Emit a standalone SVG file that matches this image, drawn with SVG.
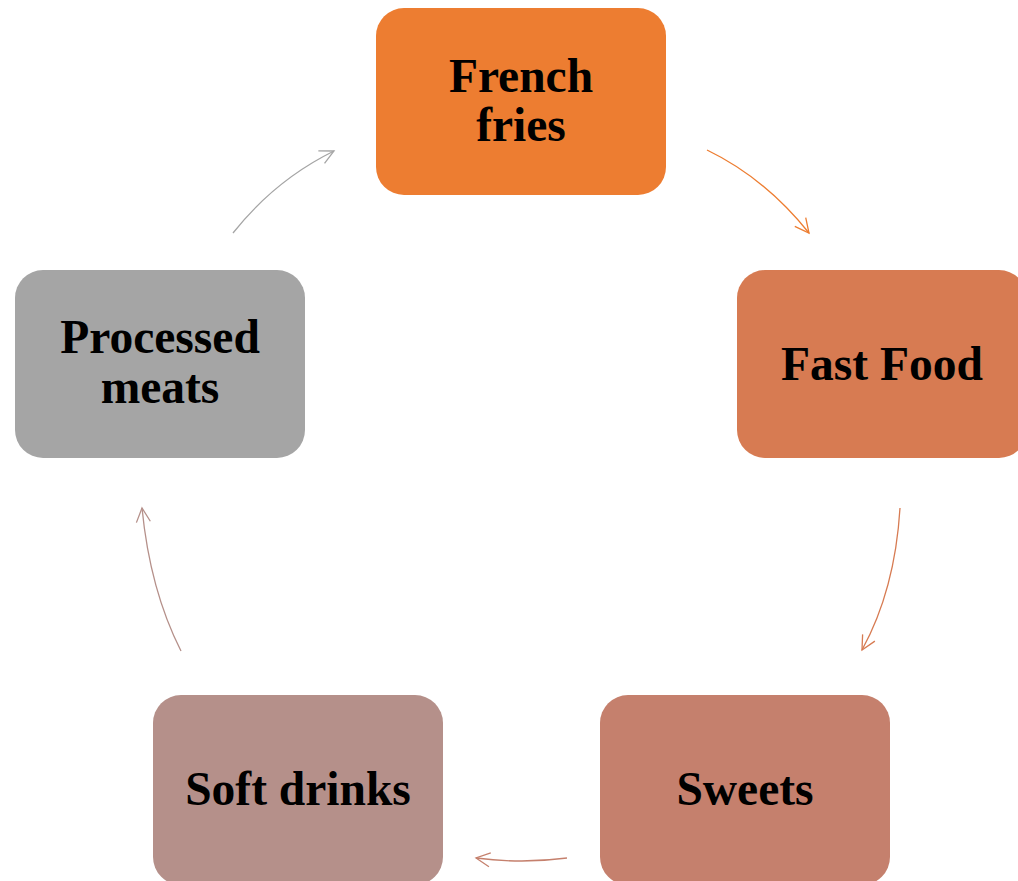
<svg xmlns="http://www.w3.org/2000/svg" width="1018" height="881" viewBox="0 0 1018 881">
<style>
.box{stroke:none}
.lbl{font-family:"Liberation Serif","Times New Roman",serif;font-weight:bold;font-size:47.5px;fill:#000;text-anchor:middle}
.c{fill:none;stroke-width:1.3}
</style>
<defs>
<marker id="m1" markerUnits="userSpaceOnUse" markerWidth="18" markerHeight="18" refX="15" refY="9" orient="auto"><path d="M1,2 L15,9 L1,16" fill="none" stroke="#ED7D31" stroke-width="1.3"/></marker>
<marker id="m2" markerUnits="userSpaceOnUse" markerWidth="18" markerHeight="18" refX="15" refY="9" orient="auto"><path d="M1,2 L15,9 L1,16" fill="none" stroke="#D77B52" stroke-width="1.3"/></marker>
<marker id="m3" markerUnits="userSpaceOnUse" markerWidth="18" markerHeight="18" refX="15" refY="9" orient="auto"><path d="M1,2 L15,9 L1,16" fill="none" stroke="#C5806D" stroke-width="1.3"/></marker>
<marker id="m4" markerUnits="userSpaceOnUse" markerWidth="18" markerHeight="18" refX="15" refY="9" orient="auto"><path d="M1,2 L15,9 L1,16" fill="none" stroke="#B5908A" stroke-width="1.3"/></marker>
<marker id="m5" markerUnits="userSpaceOnUse" markerWidth="18" markerHeight="18" refX="15" refY="9" orient="auto"><path d="M1,2 L15,9 L1,16" fill="none" stroke="#A5A5A5" stroke-width="1.3"/></marker>
</defs>
<rect width="1018" height="881" fill="#fff"/>
<g id="connectors">
<path class="c" d="M707,150 Q765,178 809,233" stroke="#ED7D31" marker-end="url(#m1)"/>
<path class="c" d="M900,508 Q895,590 862,650" stroke="#D77B52" marker-end="url(#m2)"/>
<path class="c" d="M567,858 Q522,864 476,858" stroke="#C5806D" marker-end="url(#m3)"/>
<path class="c" d="M181,651 Q150,590 142,508" stroke="#B5908A" marker-end="url(#m4)"/>
<path class="c" d="M233,233 Q275,180 334,151" stroke="#A5A5A5" marker-end="url(#m5)"/>
</g>
<g id="french-fries">
<rect class="box" x="376" y="8" width="290" height="187" rx="28" fill="#ED7D31"/>
<text class="lbl" x="521" y="92">French</text>
<text class="lbl" x="521" y="141">fries</text>
</g>
<g id="fast-food">
<rect class="box" x="737" y="270" width="290" height="188" rx="28" fill="#D77B52"/>
<text class="lbl" x="882" y="380">Fast Food</text>
</g>
<g id="sweets">
<rect class="box" x="600" y="695" width="290" height="190" rx="28" fill="#C5806D"/>
<text class="lbl" x="745" y="805">Sweets</text>
</g>
<g id="soft-drinks">
<rect class="box" x="153" y="695" width="290" height="190" rx="28" fill="#B5908A"/>
<text class="lbl" x="298" y="805">Soft drinks</text>
</g>
<g id="processed-meats">
<rect class="box" x="15" y="270" width="290" height="188" rx="28" fill="#A5A5A5"/>
<text class="lbl" x="160" y="353">Processed</text>
<text class="lbl" x="160" y="403">meats</text>
</g>
</svg>
